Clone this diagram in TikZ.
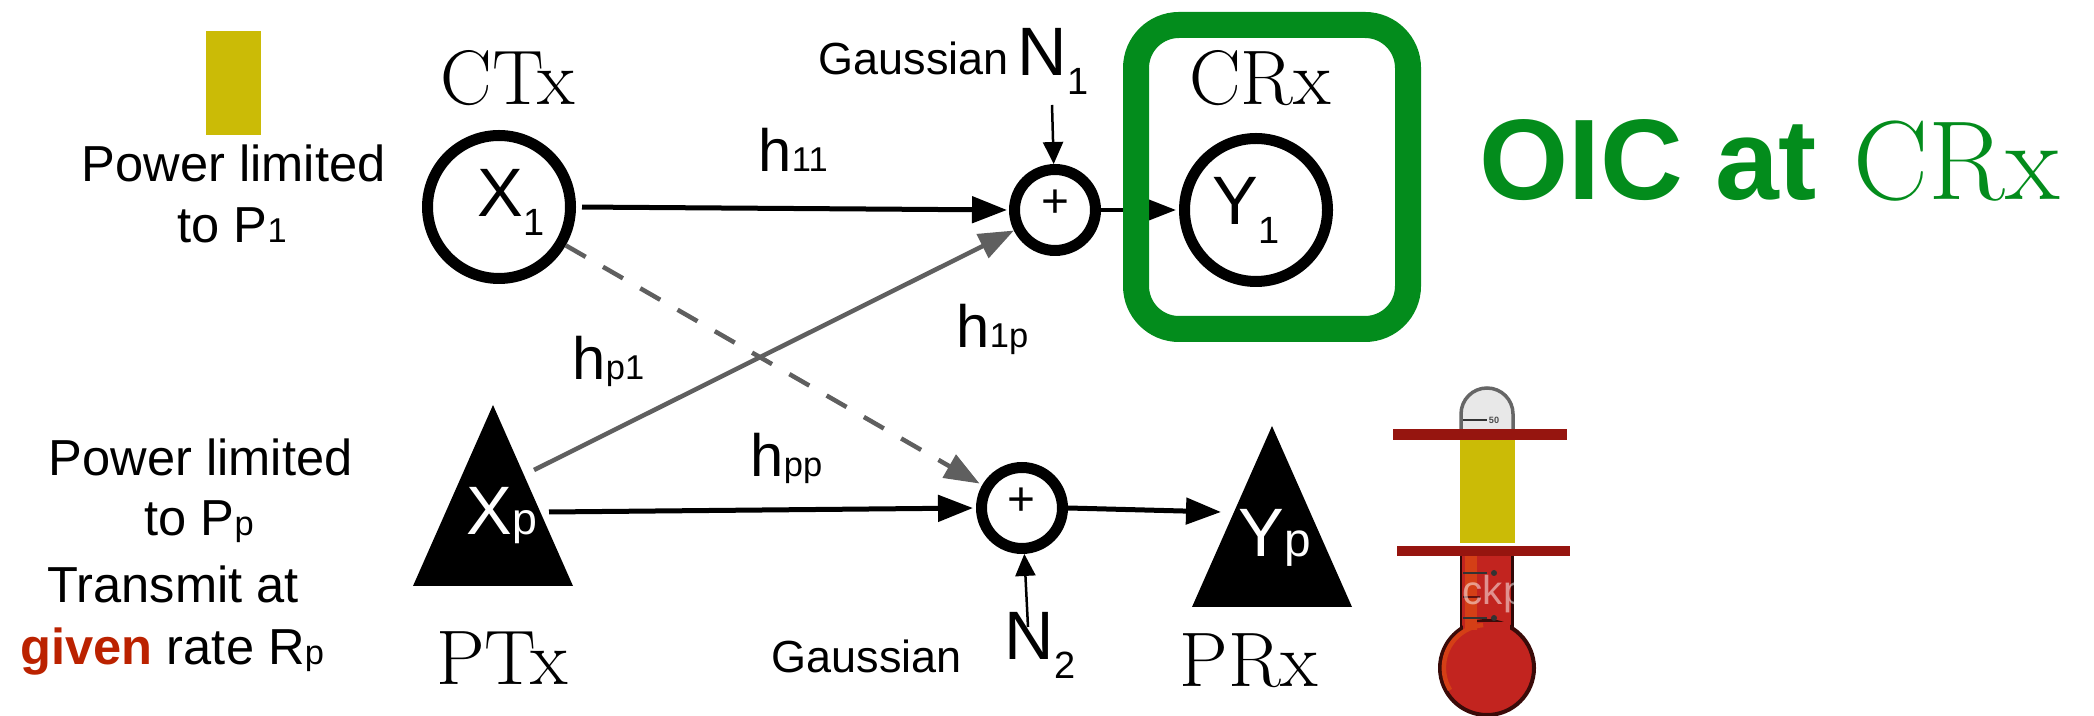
\documentclass[tikz,border=0pt]{standalone}
\usepackage{fontspec}
\setsansfont{Liberation Sans}
\usepackage{xcolor}
\usetikzlibrary{arrows.meta}
\definecolor{oicgreen}{HTML}{038C1C}
\definecolor{oicyellow}{HTML}{CBBB06}
\definecolor{oicbar}{HTML}{96150F}
\definecolor{oicgiven}{HTML}{BB2200}
\definecolor{oicgray}{HTML}{5F5F5F}
\definecolor{oicmercury}{HTML}{C2241F}
\newcommand{\lowsub}[1]{\raisebox{-1.9mm}{\fontsize{10.8}{11}\selectfont #1}}
\newcommand{\smallsub}[1]{{\fontsize{9.8}{10}\selectfont #1}}
\tikzset{
  oic text/.style={font=\sffamily\fontsize{14.4}{15}\selectfont,inner sep=0pt,anchor=base west},
  oic noise/.style={oic text,font=\sffamily\fontsize{12.8}{14}\selectfont},
  oic gain/.style={oic text,font=\sffamily\fontsize{17}{18}\selectfont},
  oic symbol/.style={oic text,font=\sffamily\fontsize{19.5}{20}\selectfont},
  oic hand/.style={font=\rmfamily\fontsize{22}{23}\selectfont,inner sep=0pt},
  oic user/.style={circle,draw,line width=1.1mm,minimum size=14.3mm,inner sep=0pt},
  oic adder/.style={circle,draw,line width=1.1mm,minimum size=8.1mm,inner sep=0pt},
  oic plus/.style={font=\sffamily\fontsize{13.6}{15}\selectfont,inner sep=0pt},
  oic link/.style={line width=0.5mm,-{Triangle[length=3.5mm,width=2.6mm]}},
  oic cross/.style={oic link,draw=oicgray,line width=0.45mm,-{Triangle[length=3.5mm,width=2.6mm,fill=oicgray]}},
  oic feed/.style={line width=0.25mm,-{Triangle[length=2.2mm,width=2mm]}},
  oic tick/.style={line width=0.25mm,black!80}
}

\begin{document}
\begin{tikzpicture}[x=0.1mm,y=-0.1mm]
\useasboundingbox (0,0) rectangle (2094,716);

% power bar of the secondary user
\fill[oicyellow] (206,31) rectangle (261,135);
\node[oic text] (pwrA) at (81,182) {Power limited};
\node[oic text] (pwrB) at (177,243) {to P\smallsub{1}};

% transmitters and receivers
\node[oic user] (x1) at (499,207) {};
\node[oic user] (y1) at (1256,210) {};
\node[oic symbol] (x1lab) at (477,217) {X\lowsub{1}};
\node[oic symbol] (y1lab) at (1212,225) {Y\lowsub{1}};
\node[oic hand] (ctx) at (508,78) {CTx};
\node[oic hand] (crx) at (1260,78) {CRx};
\node[oic hand] (ptx) at (502,658) {PTx};
\node[oic hand] (prx) at (1249,661) {PRx};
\fill (493,405) -- (573,586) -- (413,586) -- cycle;
\fill (1272,426) -- (1352,607) -- (1192,607) -- cycle;
\node[oic symbol,text=white] (xplab) at (466,535) {X\smallsub{\fontsize{12.7}{14}\selectfont p}};
\node[oic symbol,text=white] (yplab) at (1238,557) {Y\smallsub{\fontsize{13.6}{15}\selectfont p}};
\coordinate (xp up) at (534,470);
\coordinate (xp out) at (549,512);
\coordinate (yp in) at (1221,512);

% adders with their noise inputs
\node[oic adder] (addA) at (1055,210) {};
\node[oic adder] (addB) at (1022,508) {};
\node[oic plus] (plusA) at (1055,204) {+};
\node[oic plus] (plusB) at (1021,502) {+};
\node[oic noise] (gaussA) at (818,75) {Gaussian};
\node[oic noise] (gaussB) at (771,673) {Gaussian};
\node[oic symbol] (n1) at (1017,76) {N\lowsub{1}};
\node[oic symbol] (n2) at (1004,660) {N\lowsub{2}};
\coordinate (n1 foot) at (1052,105);
\coordinate (n2 foot) at (1028,627);
\draw[oic feed] (n1 foot) -- (addA);
\draw[oic feed] (n2 foot) -- (addB);

% links
\draw[oic link,shorten <=0.6mm,shorten >=0.2mm] (x1.east) -- (addA.west);
\draw[oic link,shorten >=0.3mm] (xp out) -- (addB.west);
\draw[oic link] (addB.east) -- (yp in);
\draw[oic link,line width=0.45mm,shorten >=0.3mm] (addA.east) -- (y1.west);
\draw[oic cross] (xp up) -- (addA);
\draw[oic cross,dash pattern=on 2.3mm off 2mm,shorten >=0.3mm] (x1) -- (addB);
\node[oic gain] (h11) at (758,172) {h\smallsub{11}};
\node[oic gain] (h1p) at (956,348) {h\smallsub{1p}};
\node[oic gain] (hp1) at (572,380) {h\smallsub{p1}};
\node[oic gain] (hpp) at (750,477) {h\smallsub{pp}};

% highlighted receiver
\draw[oicgreen,line width=2.6mm,rounded corners=4.3mm] (1136,25) rectangle (1408,329);
\node[oic text,font=\sffamily\bfseries\fontsize{32.6}{34}\selectfont,text=oicgreen] (oic) at (1479,200) {OIC at};
\node[oic hand,anchor=base west,font=\rmfamily\fontsize{32}{34}\selectfont,text=oicgreen] (oiccrx) at (1853,200) {CRx};

% primary user text
\node[oic text] (pwrC) at (48,476) {Power limited};
\node[oic text] (pwrD) at (144,536) {to P\smallsub{p}};
\node[oic text] (trA) at (47,603) {Transmit at};
\node[oic text] (trB) at (20,665) {\textbf{\textcolor{oicgiven}{given}} rate R\smallsub{p}};

% thermometer
\filldraw[fill=black!9,draw=black!60,line width=0.35mm] (1461,432) -- (1461,414) arc[start angle=180,end angle=360,radius=26] -- (1513,432);
\draw[oic tick] (1463,420) -- (1487,420);
\node[font=\sffamily\bfseries\fontsize{2.6}{3}\selectfont,inner sep=0pt,text=black!70] (topmark) at (1494,420) {50};
\fill[oicmercury] (1461,550) rectangle (1512,640);
\draw[black!75!oicmercury,line width=0.25mm] (1461,550) -- (1461,632);
\draw[black!75!oicmercury,line width=0.3mm] (1512,550) -- (1512,632);
\filldraw[fill=oicmercury,draw=black!70!oicmercury,line width=0.4mm] (1487,668) circle[radius=47];
\fill[oicmercury] (1463,622) rectangle (1510,640);
\fill[oicmercury!70!orange] (1465,550) rectangle (1477,630);
\draw[oicmercury!70!orange,line width=0.45mm] (1450,690) arc[start angle=149,end angle=265,radius=43];
\draw[oic tick] (1463,573) -- (1487,573);
\draw[oic tick] (1463,618) -- (1487,618);
\draw[oic tick,black!50!oicmercury] (1463,597) -- (1480,597);
\fill[black!80] (1494,573) circle[radius=3];
\fill[black!80] (1494,618) circle[radius=3];
\node[oic text,font=\sffamily\fontsize{11.5}{12}\selectfont,text=white,opacity=0.5] (mark) at (1462,605) {ckp};
\fill[oicyellow] (1460,439) rectangle (1515,543);
\fill[oicbar] (1393,429) rectangle (1567,440);
\fill[oicbar] (1397,546) rectangle (1570,556);
\end{tikzpicture}
\end{document}
